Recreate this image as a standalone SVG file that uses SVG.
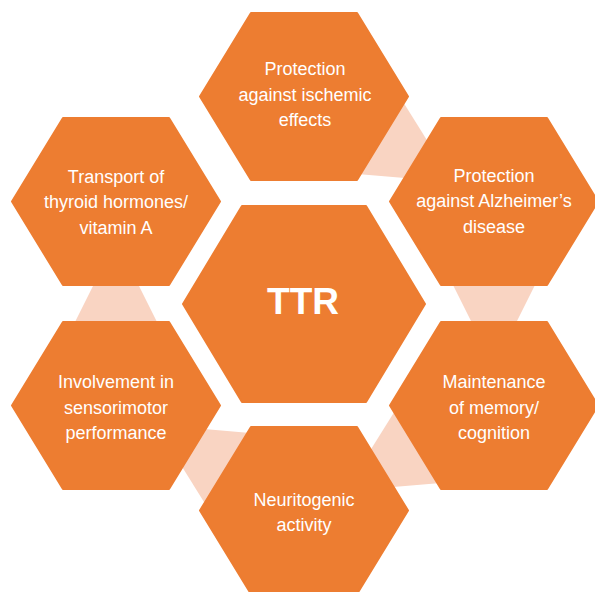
<svg xmlns="http://www.w3.org/2000/svg" xmlns:xlink="http://www.w3.org/1999/xlink" width="595" height="592" viewBox="0 0 595 592">
<style>
.hex{fill:#ED7D31;stroke:#ED7D31;stroke-width:2;stroke-linejoin:round}
.conn{fill:#F9D4C2}
.lbl{font-family:"Liberation Sans",Arial,sans-serif;font-size:18px;fill:#FFFFFF;text-anchor:middle}
.big{font-family:"Liberation Sans",Arial,sans-serif;font-size:37px;font-weight:bold;fill:#FFFFFF;text-anchor:middle}
</style>
<defs>
<polygon id="hexS" points="-104,0 -53,-83.5 53,-83.5 104,0 53,83.5 -53,83.5"/>
<polygon id="hexL" points="-121,0 -62,-98 62,-98 121,0 62,98 -62,98"/>
<polygon id="taper" points="-28,-45.75 28,-17.75 28,17.75 -28,45.75"/>
</defs>
<rect width="595" height="592" fill="#FFFFFF"/>
<g id="connectors">
<use xlink:href="#taper" class="conn" transform="translate(399,149) rotate(31.4)"/>
<use xlink:href="#taper" class="conn" transform="translate(494,303.5) rotate(90)"/>
<use xlink:href="#taper" class="conn" transform="translate(399,458) rotate(148.6)"/>
<use xlink:href="#taper" class="conn" transform="translate(210,458) rotate(211.4)"/>
<use xlink:href="#taper" class="conn" transform="translate(116,303.5) rotate(270)"/>
</g>
<g id="ttr">
<use xlink:href="#hexL" class="hex" transform="translate(304,304)"/>
<text class="big" x="303" y="314">TTR</text>
</g>
<g id="ischemic">
<use xlink:href="#hexS" class="hex" transform="translate(304,96.5)"/>
<text class="lbl" x="305" y="75">Protection</text>
<text class="lbl" x="305" y="100.5">against ischemic</text>
<text class="lbl" x="305" y="126">effects</text>
</g>
<g id="alzheimer">
<use xlink:href="#hexS" class="hex" transform="translate(494,201.5)"/>
<text class="lbl" x="494" y="181.5">Protection</text>
<text class="lbl" x="494" y="207">against Alzheimer’s</text>
<text class="lbl" x="494" y="232.5">disease</text>
</g>
<g id="memory">
<use xlink:href="#hexS" class="hex" transform="translate(494,405.5)"/>
<text class="lbl" x="494" y="388">Maintenance</text>
<text class="lbl" x="494" y="413.5">of memory/</text>
<text class="lbl" x="494" y="439">cognition</text>
</g>
<g id="neuritogenic">
<use xlink:href="#hexS" class="hex" transform="translate(304,510.5)"/>
<text class="lbl" x="304" y="505.5">Neuritogenic</text>
<text class="lbl" x="304" y="531">activity</text>
</g>
<g id="sensorimotor">
<use xlink:href="#hexS" class="hex" transform="translate(116,405.5)"/>
<text class="lbl" x="116" y="388">Involvement in</text>
<text class="lbl" x="116" y="413.5">sensorimotor</text>
<text class="lbl" x="116" y="439">performance</text>
</g>
<g id="transport">
<use xlink:href="#hexS" class="hex" transform="translate(116,201.5)"/>
<text class="lbl" x="116" y="182.5">Transport of</text>
<text class="lbl" x="116" y="208">thyroid hormones/</text>
<text class="lbl" x="116" y="233.5">vitamin A</text>
</g>
</svg>
